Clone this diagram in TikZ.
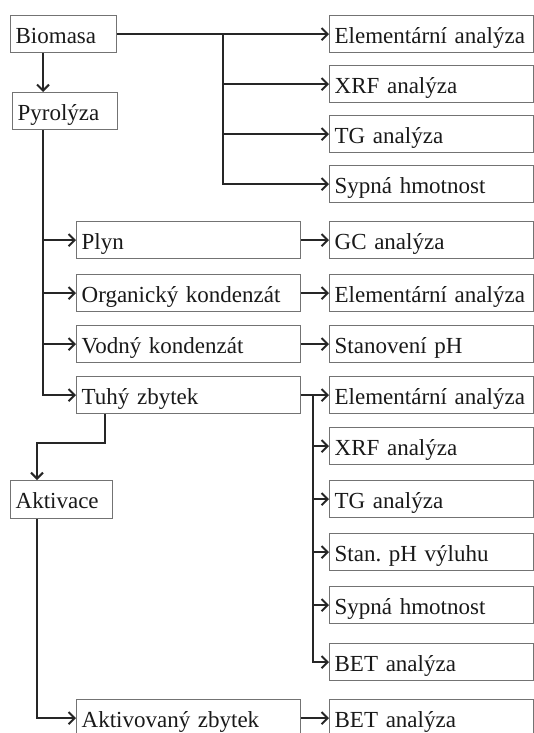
\documentclass[tikz,border=0pt]{standalone}
\usepackage{fontspec}
\setmainfont{Liberation Serif}
\usetikzlibrary{arrows.meta}
\frenchspacing
\tikzset{
  box/.style={draw=black!55, line width=1.3pt, anchor=north west, minimum height=37pt,
    inner xsep=5pt, inner ysep=0pt, align=left, text=black!90,
    text height=23pt, text depth=5pt,
    font=\fontsize{23}{27}\selectfont},
  lbox/.style={box, text width=#1-10pt},
  conn/.style={draw=black!85, line width=2pt},
  arr/.style={conn, -{Straight Barb[length=6pt,width=12pt,line width=2pt]}},
}
\begin{document}
\begin{tikzpicture}[x=1pt,y=-1pt]
\clip (0,0) rectangle (534,733);
% left column
\node[lbox=106pt] (bio) at (10,15) {Biomasa};
\node[lbox=105pt] (pyr) at (12,92) {Pyrolýza};
\node[lbox=224pt] (plyn) at (76,221) {Plyn};
\node[lbox=224pt] (org) at (76,274) {Organický kondenzát};
\node[lbox=224pt] (vod) at (76,325) {Vodný kondenzát};
\node[lbox=224pt] (tuhy) at (76,376) {Tuhý zbytek};
\node[lbox=102pt, minimum height=38pt] (akt) at (10,480) {Aktivace};
\node[lbox=224pt] (aktz) at (76,699) {Aktivovaný zbytek};
% right column
\node[lbox=204pt] (ea1) at (329,15) {Elementární analýza};
\node[lbox=204pt] (xrf1) at (329,65) {XRF analýza};
\node[lbox=204pt] (tg1) at (329,115) {TG analýza};
\node[lbox=204pt] (syp1) at (329,165) {Sypná hmotnost};
\node[lbox=204pt] (gc) at (329,221) {GC analýza};
\node[lbox=204pt] (ea2) at (329,274) {Elementární analýza};
\node[lbox=204pt] (ph) at (329,325) {Stanovení pH};
\node[lbox=204pt] (ea3) at (329,376) {Elementární analýza};
\node[lbox=204pt] (xrf3) at (329,427) {XRF analýza};
\node[lbox=204pt] (tg3) at (329,480) {TG analýza};
\node[lbox=204pt] (stph) at (329,533) {Stan. pH výluhu};
\node[lbox=204pt] (syp3) at (329,586) {Sypná hmotnost};
\node[lbox=204pt] (bet3) at (329,643) {BET analýza};
\node[lbox=204pt] (bet4) at (329,699) {BET analýza};
% helper coordinates
\coordinate (c1) at (43,0);
\coordinate (br1) at (223,33.5);
\coordinate (c2) at (313,0);
\coordinate (c3) at (105,443);
\coordinate (c4) at (37,0);
% connectors
\draw[arr] (bio.south -| c1) -- (pyr.north -| c1);
\draw[arr] (bio.east) -- (ea1.west);
\draw[arr] (bio.east -| br1) |- (xrf1.west);
\draw[arr] (bio.east -| br1) |- (tg1.west);
\draw[arr] (bio.east -| br1) |- (syp1.west);
\draw[arr] (pyr.south -| c1) |- (plyn.west);
\draw[arr] (pyr.south -| c1) |- (org.west);
\draw[arr] (pyr.south -| c1) |- (vod.west);
\draw[arr] (pyr.south -| c1) |- (tuhy.west);
\draw[arr] (plyn.east) -- (gc.west);
\draw[arr] (org.east) -- (ea2.west);
\draw[arr] (vod.east) -- (ph.west);
\draw[arr] (tuhy.east) -- (ea3.west);
\draw[arr, line width=2.6pt] (tuhy.east -| c2) |- (bet3.west);
\draw[arr] (xrf3.west -| c2) -- (xrf3.west);
\draw[arr] (tg3.west -| c2) -- (tg3.west);
\draw[arr] (stph.west -| c2) -- (stph.west);
\draw[arr] (syp3.west -| c2) -- (syp3.west);
\draw[arr] (tuhy.south -| c3) -- (c3) -| (akt.north -| c4);
\draw[arr] (akt.south -| c4) |- (aktz.west);
\draw[arr] (aktz.east) -- (bet4.west);
\end{tikzpicture}
\end{document}
